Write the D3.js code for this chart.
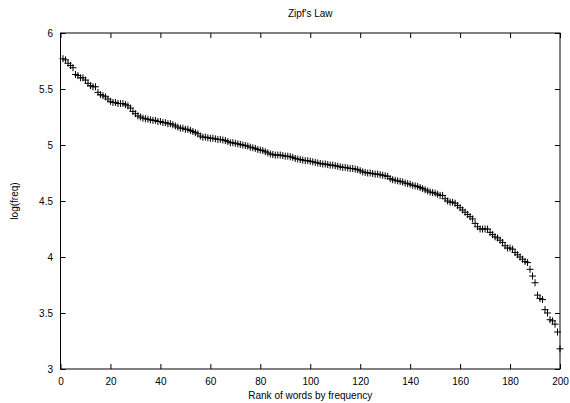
<!DOCTYPE html>
<html>
<head>
<meta charset="utf-8">
<script src="https://cdn.jsdelivr.net/npm/d3@7"></script>
<style>
   body { margin: 0; background: #fff; }
   svg text { font-family: "Liberation Sans", Arial, sans-serif; font-size: 10px; fill: #000; }
</style>
</head>
<body>
<div class="container"><svg width="570" height="403"></svg></div>
<script>
var width = 570;
var height = 403;
var margin = { top: 33, right: 10, bottom: 34, left: 60.5 };

// rank of each word (1..200)
var ranks = d3.range(1, 201);

// log(freq), 10 per row
var logFreq = [
   5.77, 5.76, 5.73, 5.71, 5.69, 5.63, 5.62, 5.60, 5.60, 5.58,
   5.55, 5.53, 5.52, 5.52, 5.47, 5.45, 5.44, 5.43, 5.41, 5.39,
   5.38, 5.38, 5.37, 5.37, 5.37, 5.36, 5.35, 5.33, 5.30, 5.28,
   5.26, 5.25, 5.24, 5.235, 5.23, 5.225, 5.22, 5.22, 5.21, 5.21,
   5.20, 5.20, 5.19, 5.19, 5.18, 5.17, 5.16, 5.15, 5.15, 5.14,
   5.14, 5.13, 5.12, 5.11, 5.10, 5.08, 5.07, 5.07, 5.065, 5.06,
   5.06, 5.055, 5.05, 5.05, 5.045, 5.04, 5.03, 5.02, 5.02, 5.015,
   5.01, 5.005, 5.00, 4.995, 4.99, 4.98, 4.975, 4.97, 4.96, 4.955,
   4.95, 4.94, 4.93, 4.92, 4.915, 4.91, 4.91, 4.91, 4.905, 4.90,
   4.90, 4.895, 4.89, 4.88, 4.875, 4.87, 4.865, 4.86, 4.86, 4.855,
   4.85, 4.845, 4.84, 4.835, 4.83, 4.83, 4.825, 4.82, 4.82, 4.815,
   4.81, 4.805, 4.80, 4.80, 4.795, 4.79, 4.79, 4.785, 4.78, 4.77,
   4.76, 4.755, 4.75, 4.75, 4.745, 4.74, 4.74, 4.735, 4.73, 4.725,
   4.72, 4.70, 4.69, 4.685, 4.68, 4.675, 4.67, 4.66, 4.655, 4.65,
   4.64, 4.635, 4.63, 4.62, 4.61, 4.60, 4.59, 4.58, 4.575, 4.57,
   4.56, 4.55, 4.55, 4.52, 4.50, 4.49, 4.49, 4.48, 4.46, 4.44,
   4.42, 4.40, 4.38, 4.36, 4.34, 4.30, 4.27, 4.25, 4.25, 4.25,
   4.25, 4.22, 4.20, 4.18, 4.17, 4.15, 4.13, 4.10, 4.08, 4.08,
   4.07, 4.04, 4.02, 4.00, 3.98, 3.96, 3.95, 3.89, 3.83, 3.77,
   3.66, 3.63, 3.62, 3.53, 3.50, 3.44, 3.43, 3.40, 3.33, 3.18
];

var xTicks = [0, 20, 40, 60, 80, 100, 120, 140, 160, 180, 200];
var yTicks = [3, 3.5, 4, 4.5, 5, 5.5, 6];

window.onload = function() {
   var svg = d3.select('.container svg');
   var plotW = width - margin.left - margin.right;
   var plotH = height - margin.top - margin.bottom;

   var x = d3.scaleLinear().domain([0, 200]).range([0, plotW]);
   var y = d3.scaleLinear().domain([3, 6]).range([plotH, 0]);

   var main = svg.append('g')
      .classed('main', true)
      .attr('transform', 'translate(' + margin.left + ',' + margin.top + ')');

   // gnuplot style: ticks point inward, mirrored on all four sides
   var tickLen = 5;
   main.append('g')
      .attr('transform', 'translate(0,' + plotH + ')')
      .call(d3.axisBottom(x).tickValues(xTicks).tickSizeInner(-tickLen).tickSizeOuter(0).tickPadding(9));
   main.append('g')
      .call(d3.axisTop(x).tickValues(xTicks).tickSizeInner(-tickLen).tickSizeOuter(0).tickFormat(''));
   main.append('g')
      .call(d3.axisLeft(y).tickValues(yTicks).tickSizeInner(-tickLen).tickSizeOuter(0).tickPadding(7.5)
         .tickFormat(function(d) { return d3.format('')(d); }));
   main.append('g')
      .attr('transform', 'translate(' + plotW + ',0)')
      .call(d3.axisRight(y).tickValues(yTicks).tickSizeInner(-tickLen).tickSizeOuter(0).tickFormat(''));

   main.selectAll('.domain').remove();
   main.selectAll('.tick line').attr('stroke', '#000');
   main.selectAll('.tick text')
      .style('font-size', '10px')
      .style('font-family', '"Liberation Sans", Arial, sans-serif')
      .attr('fill', '#000');

   main.append('rect')
      .attr('x', 0)
      .attr('y', 0)
      .attr('width', plotW)
      .attr('height', plotH)
      .attr('fill', 'none')
      .attr('stroke', '#000')
      .attr('stroke-width', 1);

   // "+" markers
   var s = 3.5;
   main.append('g')
      .classed('points', true)
      .selectAll('path')
      .data(ranks)
      .enter()
      .append('path')
      .attr('d', function(d, i) {
         var px = x(d), py = y(logFreq[i]);
         return 'M' + (px - s) + ',' + py + 'H' + (px + s) +
                'M' + px + ',' + (py - s) + 'V' + (py + s);
      })
      .attr('stroke', '#000')
      .attr('stroke-width', 1)
      .attr('fill', 'none');

   svg.append('text')
      .attr('x', margin.left + plotW / 2)
      .attr('y', 17)
      .attr('text-anchor', 'middle')
      .text("Zipf's Law");

   svg.append('text')
      .attr('x', margin.left + plotW / 2)
      .attr('y', 399)
      .attr('text-anchor', 'middle')
      .text('Rank of words by frequency');

   svg.append('text')
      .attr('transform', 'translate(18,' + (margin.top + plotH / 2) + ') rotate(-90)')
      .attr('text-anchor', 'middle')
      .text('log(freq)');
};
</script>
</body>
</html>
